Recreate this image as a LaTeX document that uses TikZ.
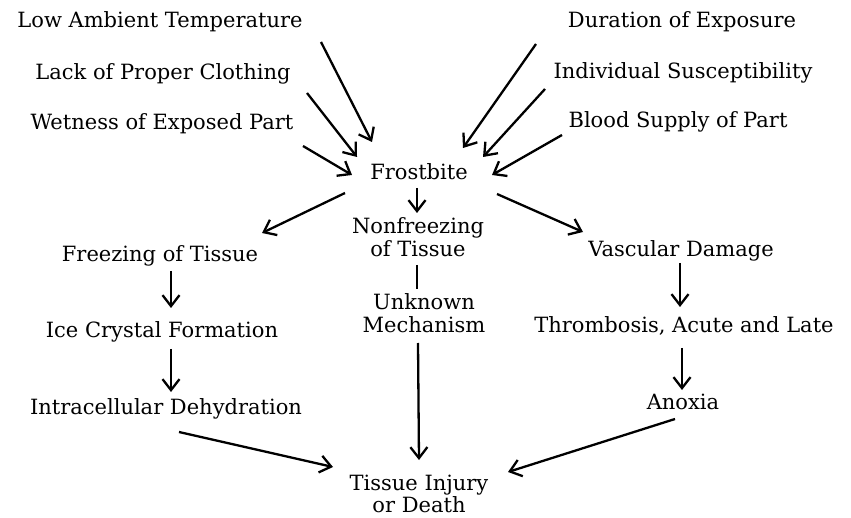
\documentclass[tikz,border=0pt]{standalone}
\usepackage{fontspec}
\setmainfont{DejaVu Serif}
\usetikzlibrary{arrows.meta,calc}
\begin{document}
\begin{tikzpicture}[x=1pt,y=-1pt,
  lbl/.style={inner sep=0pt,font=\fontsize{21}{23.5}\selectfont,text height=16pt,text depth=5pt},
  lbltwo/.style={inner sep=0pt,font=\fontsize{21}{23.5}\selectfont,align=center},
  arr/.style={line width=2.3pt,-{Straight Barb[length=11pt,width=17pt,line width=2.3pt]}},
  ln/.style={line width=2.3pt}]
\fill[white] (0,0) rectangle (851,518);
\useasboundingbox (0,0) rectangle (851,518);
% nodes
\node[lbl] (low) at (160,22) {Low Ambient Temperature};
\node[lbl] (lack) at (163,74) {Lack of Proper Clothing};
\node[lbl] (wet) at (162,124) {Wetness of Exposed Part};
\node[lbl] (dur) at (682,22) {Duration of Exposure};
\node[lbl] (ind) at (683,73) {Individual Susceptibility};
\node[lbl] (blood) at (678,122) {Blood Supply of Part};
\node[lbl] (frost) at (419,174) {Frostbite};
\node[lbltwo] (nonf) at (418,237) {Nonfreezing\\of Tissue};
\node[lbl] (freez) at (160,256) {Freezing of Tissue};
\node[lbl] (vasc) at (681,251) {Vascular Damage};
\node[lbltwo] (unk) at (424,313) {Unknown\\Mechanism};
\node[lbl] (ice) at (162,332) {Ice Crystal Formation};
\node[lbl] (thromb) at (684,327) {Thrombosis, Acute and Late};
\node[lbl] (intra) at (166,409) {Intracellular Dehydration};
\node[lbl] (anox) at (683,404) {Anoxia};
\node[lbltwo,font=\fontsize{21}{21.5}\selectfont] (tissue) at (419,494) {Tissue Injury\\or Death};
% connectors
\draw[arr] ($(low)+(161,20)$) -- ($(frost)+(-47,-32)$);
\draw[arr] ($(lack)+(144,19)$) -- ($(frost)+(-62,-17)$);
\draw[arr] ($(wet)+(141,22)$) -- ($(frost)+(-67,1)$);
\draw[arr] ($(dur)+(-146,22)$) -- ($(frost)+(44,-26)$);
\draw[arr] ($(ind)+(-138,16)$) -- ($(frost)+(64,-17)$);
\draw[arr] ($(blood)+(-116,13)$) -- ($(frost)+(73,1)$);
\draw[arr] ($(frost)+(-2,14)$) -- ($(nonf)+(-1,-24)$);
\draw[arr] ($(frost)+(-74,19)$) -- ($(freez)+(102,-23)$);
\draw[arr] ($(frost)+(78,20)$) -- ($(vasc)+(-98,-19)$);
\draw[ln] ($(nonf)+(-1,28)$) -- ($(unk)+(-7,-24)$);
\draw[arr] ($(unk)+(-6,30)$) -- ($(tissue)+(0,-34)$);
\draw[arr] ($(freez)+(11,15)$) -- ($(ice)+(9,-24)$);
\draw[arr] ($(ice)+(9,17)$) -- ($(intra)+(5,-17)$);
\draw[arr] ($(vasc)+(-1,12)$) -- ($(thromb)+(-4,-20)$);
\draw[arr] ($(thromb)+(-2,21)$) -- ($(anox)+(-1,-14)$);
\draw[arr] ($(intra)+(13,23)$) -- ($(tissue)+(-86,-27)$);
\draw[arr] ($(anox)+(-8,15)$) -- ($(tissue)+(89,-22)$);
\end{tikzpicture}
\end{document}
